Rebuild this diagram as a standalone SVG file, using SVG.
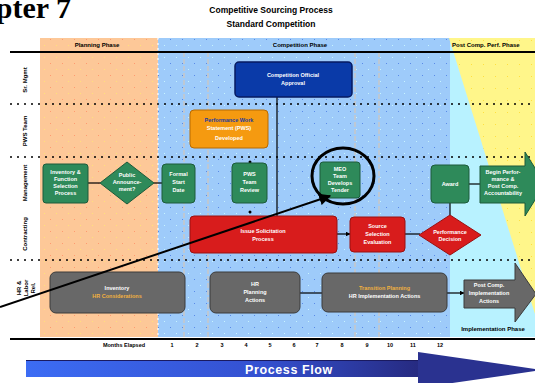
<svg xmlns="http://www.w3.org/2000/svg" width="535" height="383" viewBox="0 0 535 383">
<style>
.t{font-family:"Liberation Sans",Arial,sans-serif;font-weight:bold;}
.nt{font-family:"Liberation Sans",Arial,sans-serif;font-weight:bold;font-size:5.5px;fill:#fff;text-anchor:middle;}
.hd{font-family:"Liberation Sans",Arial,sans-serif;font-weight:bold;font-size:6px;fill:#000;}
.rl{font-family:"Liberation Sans",Arial,sans-serif;font-weight:bold;font-size:6px;fill:#000;text-anchor:middle;}
.mo{font-family:"Liberation Sans",Arial,sans-serif;font-weight:bold;font-size:5.5px;fill:#000;text-anchor:middle;}
.green{fill:#2e8a5a;stroke:#1c5a3a;stroke-width:1;}
.red{fill:#d81c1c;stroke:#9a1010;stroke-width:1;}
.grey{fill:#686868;stroke:#3a3a3a;stroke-width:1;}
.dot{stroke:#000;stroke-width:1.5;stroke-dasharray:2 5;fill:none;}
.vg{stroke:#c8c8c8;stroke-width:1.5;stroke-dasharray:5 2;fill:none;}
.con{stroke:#000;stroke-width:1.2;fill:none;}
</style>
<defs>
<pattern id="pp" width="12" height="12" patternUnits="userSpaceOnUse"><rect width="12" height="12" fill="#fdc898"/><rect x="2" y="3" width="1" height="1" fill="#ff9a70"/><rect x="8" y="9" width="1" height="1" fill="#ffe27a"/></pattern>
<pattern id="pb" width="12" height="12" patternUnits="userSpaceOnUse"><rect width="12" height="12" fill="#9ecbfa"/><rect x="2" y="3" width="1" height="1" fill="#5a8ae8"/><rect x="8" y="9" width="1" height="1" fill="#c8f4ff"/></pattern>
<pattern id="py" width="12" height="12" patternUnits="userSpaceOnUse"><rect width="12" height="12" fill="#fff68a"/><rect x="3" y="4" width="1" height="1" fill="#ffe040"/></pattern>
<linearGradient id="gf" x1="0" y1="0" x2="1" y2="0"><stop offset="0" stop-color="#3c6cf4"/><stop offset="0.6" stop-color="#3450d0"/><stop offset="1" stop-color="#262a80"/></linearGradient>
<marker id="ah" viewBox="0 0 10 10" refX="9" refY="5" markerWidth="6" markerHeight="6" orient="auto"><path d="M0,0 L10,5 L0,10 z" fill="#000"/></marker>
<marker id="sa" viewBox="0 0 10 10" refX="9" refY="5" markerWidth="4" markerHeight="4" orient="auto"><path d="M0,0 L10,5 L0,10 z" fill="#000"/></marker>
</defs>
<rect width="535" height="383" fill="#fff"/>
<text x="71" y="18" text-anchor="end" style="font-family:'Liberation Serif','Times New Roman',serif;font-weight:bold;font-size:30px;fill:#000">Chapter 7</text>
<text class="t" x="271" y="13" text-anchor="middle" font-size="8.5">Competitive Sourcing Process</text>
<text class="t" x="271" y="27" text-anchor="middle" font-size="8.5">Standard Competition</text>
<g id="bands">
<rect x="40" y="38" width="118" height="299" fill="url(#pp)"/>
<rect x="158" y="38" width="292" height="299" fill="url(#pb)"/>
<rect x="450" y="38" width="85" height="299" fill="#b8f2ff"/>
<polygon points="449,38 535,38 535,314" fill="url(#py)"/>
<line x1="158" y1="38" x2="158" y2="337" stroke="#fff" stroke-width="1.2" stroke-dasharray="2 3"/>
<line class="vg" x1="184" y1="52" x2="184" y2="337"/>
<line class="vg" x1="208" y1="52" x2="208" y2="337"/>
<line class="vg" x1="355" y1="52" x2="355" y2="337"/>
<line class="vg" x1="379" y1="52" x2="379" y2="337"/>
<line x1="10" y1="52" x2="535" y2="52" stroke="#000" stroke-width="2"/>
<line x1="10" y1="339" x2="535" y2="339" stroke="#000" stroke-width="2"/>
<line class="dot" x1="10" y1="104" x2="535" y2="104"/>
<line class="dot" x1="10" y1="157" x2="535" y2="157"/>
<line class="dot" x1="10" y1="260" x2="535" y2="260"/>
<text class="hd" x="97" y="47" text-anchor="middle">Planning Phase</text>
<text class="hd" x="300" y="47" text-anchor="middle">Competition Phase</text>
<text class="hd" x="452" y="47">Post Comp. Perf. Phase</text>
<text class="hd" x="493" y="331" text-anchor="middle">Implementation Phase</text>
</g>
<g id="row-labels">
<text class="rl" transform="translate(27,80) rotate(-90)">Sr. Mgmt</text>
<text class="rl" transform="translate(27,131) rotate(-90)">PWS Team</text>
<text class="rl" transform="translate(27,183) rotate(-90)">Management</text>
<text class="rl" transform="translate(27,234) rotate(-90)">Contracting</text>
<text class="rl" transform="translate(21,288) rotate(-90)">HR &amp;</text>
<text class="rl" transform="translate(28,288) rotate(-90)">Labor</text>
<text class="rl" transform="translate(35,288) rotate(-90)">Rel.</text>
</g>
<g id="months">
<text class="mo" x="124" y="347">Months Elapsed</text>
<text class="mo" x="172" y="347">1</text><text class="mo" x="197" y="347">2</text><text class="mo" x="222" y="347">3</text><text class="mo" x="246" y="347">4</text><text class="mo" x="270" y="347">5</text><text class="mo" x="294" y="347">6</text><text class="mo" x="317" y="347">7</text><text class="mo" x="342" y="347">8</text><text class="mo" x="367" y="347">9</text><text class="mo" x="390" y="347">10</text><text class="mo" x="413" y="347">11</text><text class="mo" x="440" y="347">12</text>
</g>
<g id="process-flow">
<rect x="26" y="360" width="394" height="17" fill="url(#gf)"/>
<polygon points="418,352 542,370 418,388" fill="#2a3290"/>
<line x1="26" y1="360.5" x2="418" y2="360.5" stroke="#1a1a60" stroke-width="1"/>
<text class="t" x="289" y="373.5" text-anchor="middle" font-size="12.5" fill="#fff" letter-spacing="0.6">Process Flow</text>
</g>
<g id="connectors">
<line class="con" x1="277" y1="97" x2="277" y2="216"/>
<line class="con" x1="88" y1="183" x2="100" y2="183"/>
<line class="con" x1="154" y1="183" x2="162" y2="183"/>
<circle cx="250" cy="162" r="1.5" fill="#000"/>
<circle cx="250" cy="212" r="1.5" fill="#000"/>
<line class="con" x1="337" y1="234" x2="350" y2="234" marker-end="url(#sa)"/>
<line class="con" x1="405" y1="234" x2="420" y2="234"/>
<line class="con" x1="450" y1="203" x2="450" y2="215"/>
<line class="con" x1="469" y1="184" x2="480" y2="184"/>
<line class="con" x1="300" y1="293" x2="322" y2="293"/>
<line class="con" x1="447" y1="293" x2="464" y2="293" marker-end="url(#sa)"/>
</g>
<g id="n-official"><rect x="235" y="62" width="117" height="35" rx="4" fill="#0a3aa8" stroke="#061a60" stroke-width="1.5"/><text class="nt" x="293" y="77">Competition Official</text><text class="nt" x="293" y="85">Approval</text></g>
<g id="n-pws"><rect x="190" y="110" width="78" height="38" rx="4" fill="#f59a10" stroke="#b86a00" stroke-width="1"/><text class="nt" x="229" y="122" style="fill:#1a3aa0">Performance Work</text><text class="nt" x="229" y="130">Statement (PWS)</text><text class="nt" x="229" y="140">Developed</text></g>
<g id="n-inventory"><rect class="green" x="43" y="164" width="45" height="39" rx="3"/><text class="nt" x="65.5" y="174">Inventory &amp;</text><text class="nt" x="65.5" y="181">Function</text><text class="nt" x="65.5" y="188">Selection</text><text class="nt" x="65.5" y="195">Process</text></g>
<g id="n-announce-dec"><polygon class="green" points="127,162 154,183 127,204 100,183"/><text class="nt" x="127" y="177">Public</text><text class="nt" x="127" y="184">Announce-</text><text class="nt" x="127" y="191">ment?</text></g>
<g id="n-formal"><rect class="green" x="162" y="164" width="33" height="39" rx="4"/><text class="nt" x="178.5" y="176">Formal</text><text class="nt" x="178.5" y="184">Start</text><text class="nt" x="178.5" y="192">Date</text></g>
<g id="n-team"><rect class="green" x="232" y="163" width="35" height="40" rx="4"/><text class="nt" x="249.5" y="176">PWS</text><text class="nt" x="249.5" y="184">Team</text><text class="nt" x="249.5" y="192">Review</text></g>
<g id="n-meo"><rect class="green" x="320" y="162" width="40" height="36" rx="3"/><text class="nt" x="340" y="171">MEO</text><text class="nt" x="340" y="178">Team</text><text class="nt" x="340" y="185">Develops</text><text class="nt" x="340" y="192">Tender</text></g>
<g id="n-award"><rect class="green" x="431" y="165" width="38" height="38" rx="4" stroke="#000"/><text class="nt" x="450" y="186">Award</text></g>
<g id="n-perform"><polygon class="green" points="480,166 525,166 525,152 545,184 525,216 525,203 480,203"/><text class="nt" x="503" y="174">Begin Perfor-</text><text class="nt" x="503" y="181">mance &amp;</text><text class="nt" x="503" y="188">Post Comp.</text><text class="nt" x="503" y="195">Accountability</text></g>
<g id="n-solicit"><rect class="red" x="190" y="216" width="147" height="37" rx="4"/><text class="nt" x="263" y="233">Issue Solicitation</text><text class="nt" x="263" y="241">Process</text></g>
<g id="n-source"><rect class="red" x="350" y="217" width="55" height="35" rx="4"/><text class="nt" x="377.5" y="228">Source</text><text class="nt" x="377.5" y="236">Selection</text><text class="nt" x="377.5" y="244">Evaluation</text></g>
<g id="n-decision"><polygon class="red" points="450,215 481,235 450,255 419,235"/><text class="nt" x="450" y="234">Performance</text><text class="nt" x="450" y="241">Decision</text></g>
<g id="n-hr1"><rect class="grey" x="50" y="272" width="135" height="41" rx="6"/><text class="nt" x="117" y="290">Inventory</text><text class="nt" x="117" y="298" style="fill:#f0b040">HR Considerations</text></g>
<g id="n-hr2"><rect class="grey" x="210" y="272" width="90" height="41" rx="6"/><text class="nt" x="255" y="286">HR</text><text class="nt" x="255" y="294">Planning</text><text class="nt" x="255" y="302">Actions</text></g>
<g id="n-hr3"><rect class="grey" x="322" y="273" width="125" height="39" rx="6"/><text class="nt" x="384.5" y="290" style="fill:#f0b040">Transition Planning</text><text class="nt" x="384.5" y="298">HR Implementation Actions</text></g>
<g id="n-hr4"><polygon class="grey" points="464,280 515,280 515,263 536,294 515,322 515,308 464,308"/><text class="nt" x="489" y="287">Post Comp.</text><text class="nt" x="489" y="295">Implementation</text><text class="nt" x="489" y="303">Actions</text></g>
<g id="annotation">
<ellipse cx="343" cy="176" rx="31" ry="28" fill="none" stroke="#000" stroke-width="3"/>
<line x1="0" y1="307" x2="330" y2="196" stroke="#000" stroke-width="2" marker-end="url(#ah)"/>
</g>
</svg>
